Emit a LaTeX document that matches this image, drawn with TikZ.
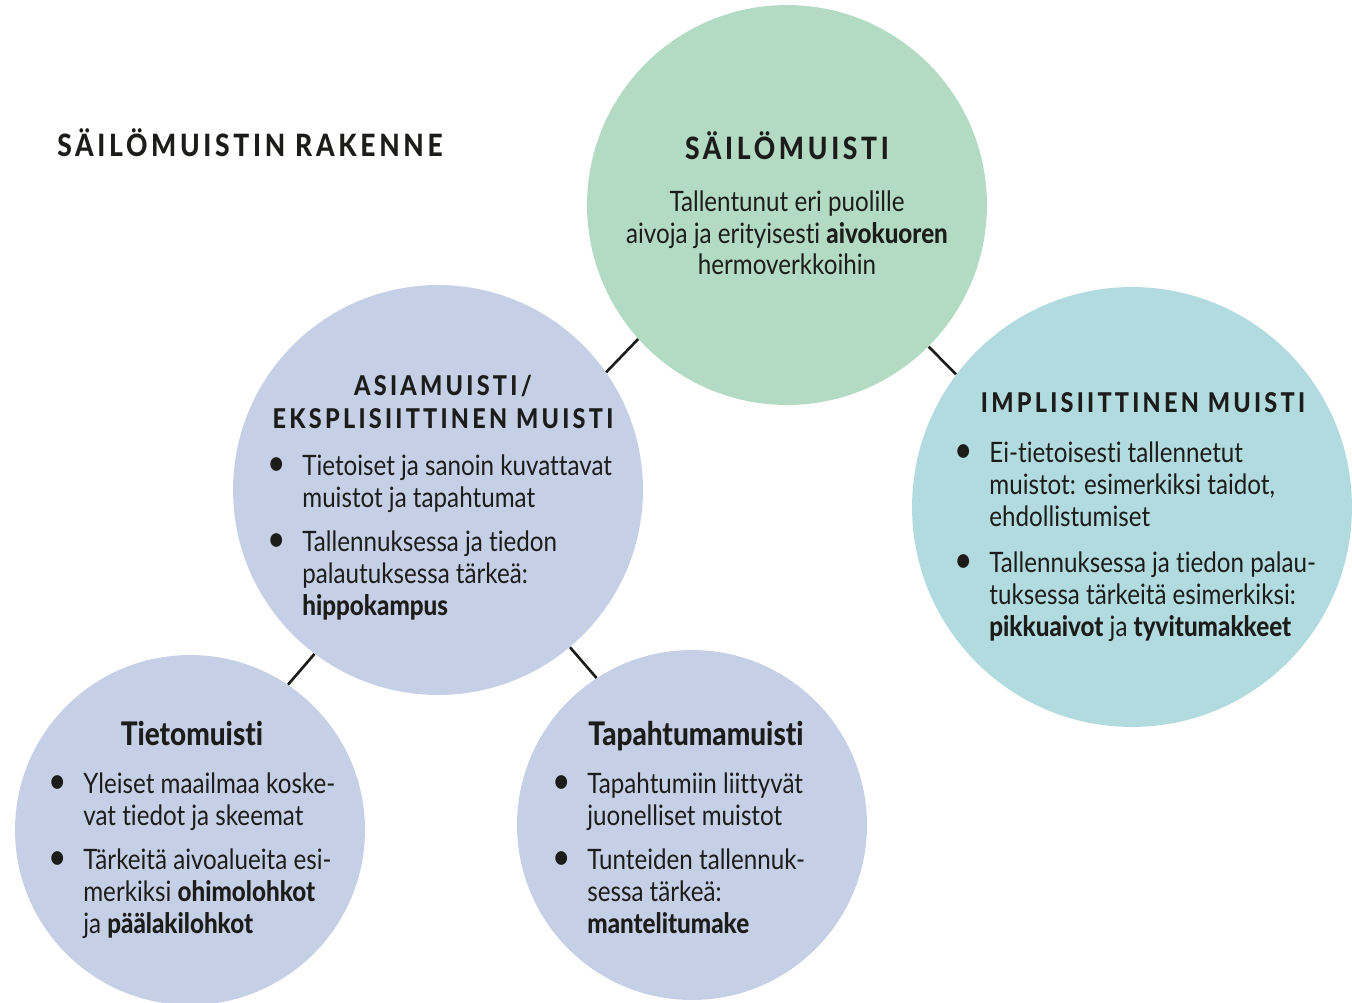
\documentclass[tikz,border=0pt]{standalone}
\usepackage{fontspec}
\setmainfont[FakeStretch=0.86,Ligatures=NoCommon,Contextuals=NoAlternate,RawFeature=-clig,BoldFont={Lato Heavy}]{Lato}
\newfontfamily\capsfont[FakeStretch=0.86,LetterSpace=12,BoldFont={Lato Heavy}]{Lato}

\definecolor{longterm}{HTML}{B3DBC3}
\definecolor{explicit}{HTML}{C5CFE6}
\definecolor{implicit}{HTML}{B2DBDF}
\definecolor{ink}{HTML}{1C1C1A}

% bullet hanging left of the item text
\newcommand\bul{\llap{{\fontsize{21}{18}\selectfont\textbullet}\hspace{0.33cm}}}

\begin{document}
\begin{tikzpicture}[x=0.02cm,y=-0.02cm,
    memory/.style={circle,inner sep=0pt,draw=none},
    link/.style={draw=ink,line width=1.5pt},
    caps/.style={font=\capsfont\bfseries\fontsize{15.5}{18.7}\selectfont,text=ink,inner sep=0pt,align=center,anchor=base},
    head/.style={font=\bfseries\fontsize{18.5}{20}\selectfont,text=ink,inner sep=0pt,anchor=base},
    body/.style={font=\fontsize{16}{18.2}\selectfont,text=ink,align=left,inner sep=0pt,anchor=base west}]

    \useasboundingbox (0,0) rectangle (1352,1003);

    % Circles
    \node[memory,fill=longterm,minimum size=8cm] (sailo) at (787,205) {};
    \node[memory,fill=explicit,minimum size=8.2cm] (asia) at (438,490) {};
    \node[memory,fill=implicit,minimum size=8.8cm] (impl) at (1132,507) {};
    \node[memory,fill=explicit,minimum size=7cm] (tieto) at (190,830) {};
    \node[memory,fill=explicit,minimum size=7cm] (tapa) at (692,825) {};

    % Links between the circles
    \draw[link] (sailo.222) -- (asia.35);
    \draw[link] (sailo.315) -- (impl.143);
    \draw[link] (asia.233) -- (tieto.56);
    \draw[link] (asia.310) -- (tapa.123);

    % Title (nodes sit on the baseline of their last line)
    \node[caps,font=\capsfont\bfseries\fontsize{17.5}{20}\selectfont,anchor=base west] (title) at (57,157) {SÄILÖMUISTIN RAKENNE};

    % Long-term memory
    \node[caps,font=\capsfont\bfseries\fontsize{17.5}{20}\selectfont] (sailo-head) at (787,160) {SÄILÖMUISTI};
    \node[body,align=center,anchor=base] (sailo-text) at (787,275)
        {Tallentunut eri puolille\\aivoja ja erityisesti \textbf{aivokuoren}\\hermoverkkoihin};

    % Explicit memory
    \node[caps] (asia-head) at (443,428) {ASIAMUISTI/\\EKSPLISIITTINEN MUISTI};
    \node[body] (asia-a) at (302,507) {\bul Tietoiset ja sanoin kuvattavat\\muistot ja tapahtumat};
    \node[body] (asia-b) at (302,615) {\bul Tallennuksessa ja tiedon\\palautuksessa tärkeä:\\\textbf{hippokampus}};

    % Implicit memory
    \node[caps] (impl-head) at (1143,413) {IMPLISIITTINEN MUISTI};
    \node[body] (impl-a) at (989,526) {\bul Ei-tietoisesti tallennetut\\muistot: esimerkiksi taidot,\\ehdollistumiset};
    \node[body] (impl-b) at (989,636) {\bul Tallennuksessa ja tiedon palau-\\tuksessa tärkeitä esimerkiksi:\\\textbf{pikkuaivot} ja \textbf{tyvitumakkeet}};

    % Semantic memory
    \node[head] (tieto-head) at (192,745) {Tietomuisti};
    \node[body] (tieto-a) at (83,825) {\bul Yleiset maailmaa koske-\\vat tiedot ja skeemat};
    \node[body] (tieto-b) at (83,933) {\bul Tärkeitä aivoalueita esi-\\merkiksi \textbf{ohimolohkot}\\ja \textbf{päälakilohkot}};

    % Episodic memory
    \node[head] (tapa-head) at (696,745) {Tapahtumamuisti};
    \node[body] (tapa-a) at (587,825) {\bul Tapahtumiin liittyvät\\juonelliset muistot};
    \node[body] (tapa-b) at (587,933) {\bul Tunteiden tallennuk-\\sessa tärkeä:\\\textbf{mantelitumake}};
\end{tikzpicture}
\end{document}
